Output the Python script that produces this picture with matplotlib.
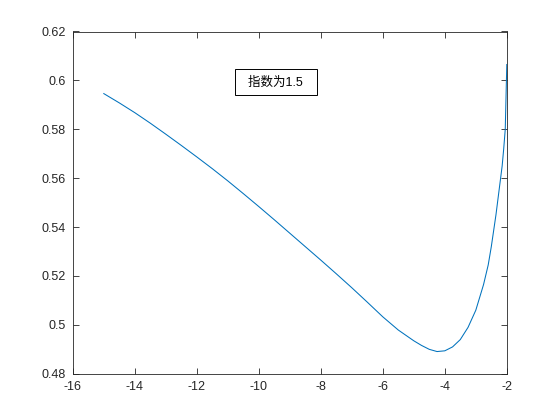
import matplotlib
matplotlib.use('Agg')
import matplotlib.pyplot as plt

plt.rcParams['font.family'] = ['Liberation Sans', 'Noto Sans CJK SC', 'DejaVu Sans']
plt.rcParams['axes.unicode_minus'] = False

# 曲线数据
x = [-15, -14.5, -14, -13.5, -13, -12.5, -12, -11.5, -11, -10.5, -10, -9.5, -9,
     -8.5, -8, -7.5, -7, -6.5, -6, -5.5, -5, -4.75, -4.5, -4.25, -4, -3.75,
     -3.5, -3.25, -3, -2.75, -2.6, -2.5, -2.35, -2.25, -2.15, -2.1, -2.05, -2]
y = [0.5946, 0.5908, 0.5868, 0.5825, 0.5780, 0.5734, 0.5687, 0.5639, 0.5589,
     0.5537, 0.5484, 0.5430, 0.5375, 0.5320, 0.5265, 0.5209, 0.5152, 0.5093,
     0.5033, 0.4979, 0.4935, 0.4916, 0.4900, 0.4891, 0.4894, 0.4910, 0.4940,
     0.4990, 0.5060, 0.5165, 0.5245, 0.5320, 0.5450, 0.5550, 0.5650, 0.5720,
     0.5800, 0.6065]

label_text = '  指数为1.5  '
label_x, label_y = -9.45, 0.5992

fig = plt.figure(figsize=(5.6, 4.2), dpi=100)
ax = fig.add_axes([0.13, 0.11, 0.775, 0.815])

ax.plot(x, y, color='#0072BD', linewidth=0.75)

ax.set_xlim(-16, -2)
ax.set_ylim(0.48, 0.62)
ax.set_xticks(range(-16, -1, 2))
ax.set_yticks([0.48, 0.5, 0.52, 0.54, 0.56, 0.58, 0.6, 0.62])
ax.set_yticklabels(['0.48', '0.5', '0.52', '0.54', '0.56', '0.58', '0.6', '0.62'])

ax.tick_params(direction='in', top=True, right=True, length=4, width=0.6,
               labelsize=9, colors='#262626', pad=5)
for sp in ax.spines.values():
    sp.set_linewidth(0.6)
    sp.set_color('#262626')

ax.text(label_x, label_y, label_text, ha='center', va='center', fontsize=9,
        bbox=dict(boxstyle='square,pad=0.55', facecolor='white', edgecolor='black', linewidth=0.7))

fig.savefig('out.png', dpi=100)
